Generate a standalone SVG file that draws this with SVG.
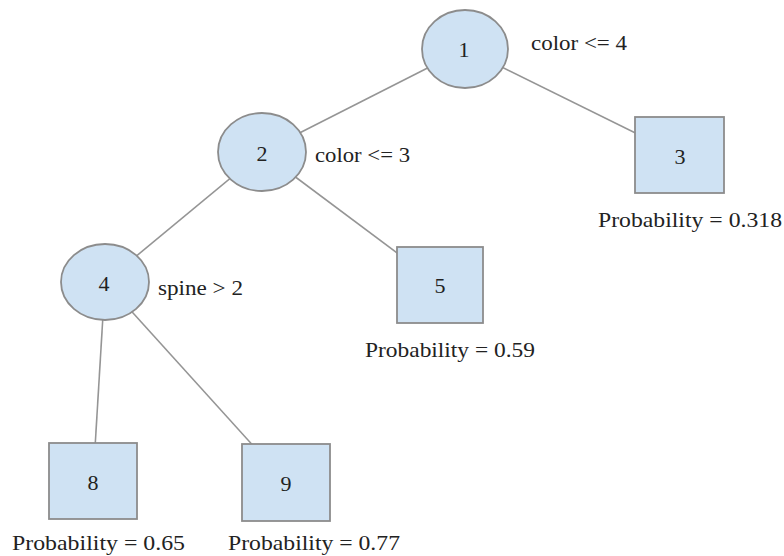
<svg xmlns="http://www.w3.org/2000/svg" width="784" height="556" viewBox="0 0 784 556">
<style>
.edge{stroke:#959595;stroke-width:1.6;fill:none}
.node{fill:#cfe2f3;stroke:#8c8c8c;stroke-width:1.8}
text{font-family:'Liberation Serif','Times New Roman','DejaVu Serif',serif;fill:#222}
.num{font-size:22px;text-anchor:middle}
.lbl{font-size:21px}
</style>
<rect width="784" height="556" fill="#ffffff"/>
<g id="connectors">
<line class="edge" x1="465" y1="49" x2="262" y2="152"/>
<line class="edge" x1="465" y1="49" x2="680" y2="155"/>
<line class="edge" x1="262" y1="152" x2="105" y2="282"/>
<line class="edge" x1="262" y1="152" x2="440" y2="285"/>
<line class="edge" x1="105" y1="282" x2="93" y2="481"/>
<line class="edge" x1="105" y1="282" x2="286" y2="482"/>
</g>
<g id="node1">
<ellipse class="node" cx="465" cy="49" rx="43" ry="39"/>
<text class="num" x="464" y="57">1</text>
<text class="lbl" x="531" y="50" textLength="96" lengthAdjust="spacingAndGlyphs">color &lt;= 4</text>
</g>
<g id="node2">
<ellipse class="node" cx="262" cy="152" rx="44" ry="39"/>
<text class="num" x="262" y="161">2</text>
<text class="lbl" x="315" y="162" textLength="95" lengthAdjust="spacingAndGlyphs">color &lt;= 3</text>
</g>
<g id="node3">
<rect class="node" x="635" y="117" width="89" height="76"/>
<text class="num" x="680" y="164">3</text>
<text class="lbl" x="598" y="227" textLength="184" lengthAdjust="spacingAndGlyphs">Probability = 0.318</text>
</g>
<g id="node4">
<ellipse class="node" cx="105" cy="282" rx="44" ry="38"/>
<text class="num" x="104" y="291">4</text>
<text class="lbl" x="158" y="295" textLength="85" lengthAdjust="spacingAndGlyphs">spine &gt; 2</text>
</g>
<g id="node5">
<rect class="node" x="397" y="247" width="86" height="76"/>
<text class="num" x="440" y="293">5</text>
<text class="lbl" x="365" y="357" textLength="170" lengthAdjust="spacingAndGlyphs">Probability = 0.59</text>
</g>
<g id="node8">
<rect class="node" x="49" y="443" width="88" height="76"/>
<text class="num" x="93" y="490">8</text>
<text class="lbl" x="12" y="550" textLength="173" lengthAdjust="spacingAndGlyphs">Probability = 0.65</text>
</g>
<g id="node9">
<rect class="node" x="242" y="444" width="88" height="77"/>
<text class="num" x="286" y="491">9</text>
<text class="lbl" x="228" y="550" textLength="172" lengthAdjust="spacingAndGlyphs">Probability = 0.77</text>
</g>
</svg>
